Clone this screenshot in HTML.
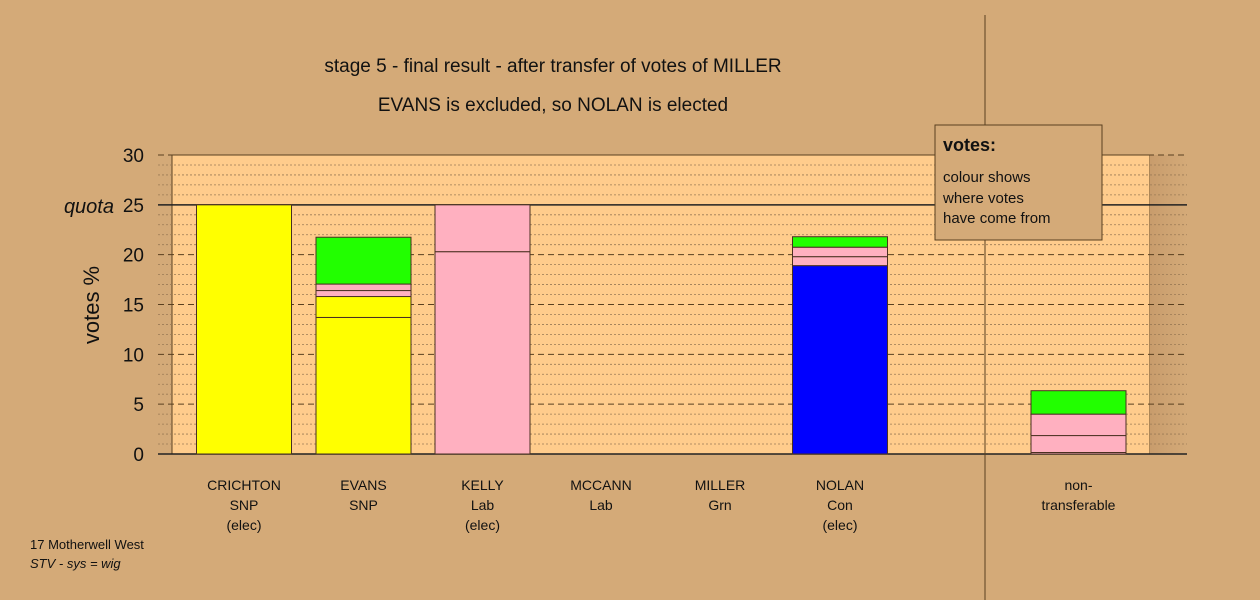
<!DOCTYPE html>
<html><head><meta charset="utf-8"><style>
body{margin:0;background:#d4aa78;}
svg{display:block;font-family:"Liberation Sans",sans-serif;}
</style></head><body>
<svg id="c" width="1260" height="600" xmlns="http://www.w3.org/2000/svg">
<rect width="1260" height="600" fill="#d4aa78"/>
<defs><linearGradient id="rg" x1="0" x2="1"><stop offset="0" stop-color="#c89c6c"/><stop offset="1" stop-color="#d4aa78"/></linearGradient></defs>
<rect x="172" y="155" width="978" height="299" fill="#ffcc8c" stroke="#5a4020" stroke-width="1"/>
<rect x="1150" y="155" width="37" height="299" fill="url(#rg)"/>
<g id="grid"></g>
<g id="bars"></g>
<line x1="985" y1="15" x2="985" y2="600" stroke="#5a4020" stroke-width="1"/>
<g id="axis"></g>
<text x="553" y="72" font-size="19" text-anchor="middle" fill="#111">stage 5 - final result - after transfer of votes of MILLER</text>
<text x="553" y="111" font-size="19" text-anchor="middle" fill="#111">EVANS is excluded, so NOLAN is elected</text>
<text x="99" y="305" font-size="22" text-anchor="middle" fill="#111" transform="rotate(-90 99 305)">votes %</text>
<g>
<rect x="935" y="125" width="167" height="115" fill="#d4aa78" stroke="#5a4020"/>
<text x="943" y="151" font-size="18" font-weight="bold" fill="#111">votes:</text>
<text x="943" y="182" font-size="15" fill="#111">colour shows</text>
<text x="943" y="203" font-size="15" fill="#111">where votes</text>
<text x="943" y="223" font-size="15" fill="#111">have come from</text>
</g>
<text x="30" y="549" font-size="13" fill="#111">17 Motherwell West</text>
<text x="30" y="568" font-size="13" font-style="italic" fill="#111">STV - sys = wig</text>
</svg>
<script>
const categories=[["CRICHTON","SNP","(elec)"],["EVANS","SNP"],["KELLY","Lab","(elec)"],["MCCANN","Lab"],["MILLER","Grn"],["NOLAN","Con","(elec)"],["non-","transferable"]];
const segValues=[[25],[13.7,2.1,0.6,0.65,4.7],[20.3,4.7],[],[],[18.9,0.9,0.95,1.05],[0.15,1.7,2.15,2.35]];
const segColors=[["#ffff00"],["#ffff00","#ffff00","#ffb0c0","#ffb0c0","#22ff00"],["#ffb0c0","#ffb0c0"],[],[],["#0000ff","#ffb0c0","#ffb0c0","#22ff00"],["#ffb0c0","#ffb0c0","#ffb0c0","#22ff00"]];
const yTicks=[0,5,10,15,20,25,30];
const quota=25;
const NS="http://www.w3.org/2000/svg";
const y=v=>454-v*(299/30);
const xc=[244,363.5,482.5,601,720,840,1078.5];
const bw=95;
function mk(t,a,p){const e=document.createElementNS(NS,t);for(const k in a)e.setAttribute(k,a[k]);p.appendChild(e);return e;}
const grid=document.getElementById('grid'),axis=document.getElementById('axis'),bars=document.getElementById('bars');
for(let v=0;v<=30;v++){
  let l;
  if(v===0||v===quota){l=mk('line',{x1:158,x2:1187,y1:y(v),y2:y(v),stroke:'#222','stroke-width':1.5},grid);}
  else if(v%5===0){l=mk('line',{x1:158,x2:1187,y1:y(v),y2:y(v),stroke:'#5a4020','stroke-dasharray':'6,4'},grid);}
  else{l=mk('line',{x1:158,x2:1187,y1:y(v),y2:y(v),stroke:'#9a7a55','stroke-dasharray':'2,2','stroke-width':0.8},grid);}
  
  
}
yTicks.forEach(v=>{
  const t=mk('text',{x:144,y:y(v)+7,'font-size':19,'text-anchor':'end',fill:'#111'},axis);
  t.textContent=v;
  
  
});
const q=mk('text',{x:114,y:y(quota)+8,'font-size':20,'font-style':'italic','text-anchor':'end',fill:'#111'},axis);
q.textContent='quota';


categories.forEach((lines,i)=>{
  let cum=0;
  segValues[i].forEach((v,j)=>{
    const r=mk('rect',{x:xc[i]-bw/2,y:y(cum+v),width:bw,height:y(cum)-y(cum+v),fill:segColors[i][j],stroke:'#4a3020','stroke-width':1},bars);
    
    
    cum+=v;
  });
  lines.forEach((s,k)=>{
    const t=mk('text',{x:xc[i],y:490+k*20,'font-size':14,'text-anchor':'middle',fill:'#111'},axis);
    t.textContent=s;
    
    
  });
});
</script>
</body></html>
